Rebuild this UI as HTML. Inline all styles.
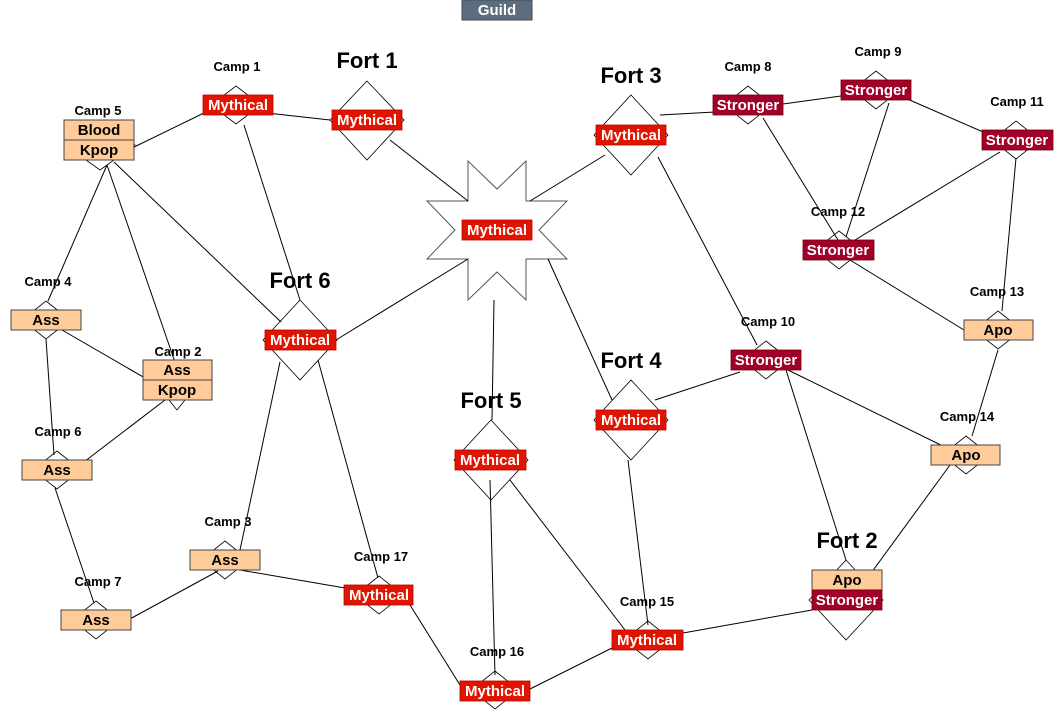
<!DOCTYPE html>
<html><head><meta charset="utf-8"><style>
html,body{margin:0;padding:0;background:#fff;}
svg{display:block;font-family:"Liberation Sans",Arial,sans-serif;}
.cl{font-size:13px;font-weight:bold;fill:#000;text-anchor:middle;}
.fl{font-size:22px;font-weight:bold;fill:#000;text-anchor:middle;}
.wl{font-size:15px;font-weight:bold;fill:#fff;text-anchor:middle;}
.bl{font-size:15px;font-weight:bold;fill:#000;text-anchor:middle;}
.d{fill:#fff;stroke:#000;stroke-width:0.8;}
.r{fill:#e01400;stroke:#b00;stroke-width:0.8;}
.s{fill:#a0002a;stroke:#700;stroke-width:0.8;}
.o{fill:#ffcc99;stroke:#444;stroke-width:1;}
line{stroke:#000;stroke-width:1;}
</style></head><body>
<svg width="1064" height="713" viewBox="0 0 1064 713">
<!-- diamonds -->
<g class="d">
<polygon points="100,120 135,145 100,170 65,145"/>
<polygon points="236,86 261,105 236,124 211,105"/>
<polygon points="367,81 404,120 367,160 330,120"/>
<polygon points="631,95 668,135 631,175 594,135"/>
<polygon points="748,86 772,105 748,124 724,105"/>
<polygon points="876,71 900,90 876,109 852,90"/>
<polygon points="1016,121 1040,140 1016,159 992,140"/>
<polygon points="839,231 863,250 839,269 815,250"/>
<polygon points="998,311 1022,330 998,349 974,330"/>
<polygon points="766,341 790,360 766,379 742,360"/>
<polygon points="631,380 668,420 631,460 594,420"/>
<polygon points="966,436 990,455 966,474 942,455"/>
<polygon points="846,560 883,600 846,640 809,600"/>
<polygon points="648,621 672,640 648,659 624,640"/>
<polygon points="495,671 519,690 495,709 471,690"/>
<polygon points="491,420 528,460 491,500 454,460"/>
<polygon points="379,576 403,595 379,614 355,595"/>
<polygon points="225,541 249,560 225,579 201,560"/>
<polygon points="96,601 120,620 96,639 72,620"/>
<polygon points="57,451 81,470 57,489 33,470"/>
<polygon points="46,301 70,320 46,339 22,320"/>
<polygon points="177,360 201,380 177,410 153,380"/>
<polygon points="300,300 337,340 300,380 263,340"/>
<polygon points="427,201 468,201 468,161 497,189 526,161 526,201 567,201 539,230 567,259 526,259 526,300 497,272 468,300 468,259 427,259 455,230" style="stroke:#555;stroke-width:1"/>
</g>
<!-- edges -->
<g>
<line x1="128" y1="150" x2="206" y2="112"/>
<line x1="258" y1="112" x2="330" y2="120"/>
<line x1="244" y1="125" x2="300" y2="300"/>
<line x1="390" y1="140" x2="468" y2="201"/>
<line x1="530" y1="201" x2="605" y2="155"/>
<line x1="660" y1="115" x2="715" y2="112"/>
<line x1="783" y1="104" x2="841" y2="96"/>
<line x1="905" y1="98" x2="990" y2="135"/>
<line x1="763" y1="118" x2="838" y2="240"/>
<line x1="889" y1="103" x2="846" y2="237"/>
<line x1="1000" y1="152" x2="855" y2="240"/>
<line x1="1016" y1="158" x2="1002" y2="311"/>
<line x1="850" y1="260" x2="964" y2="330"/>
<line x1="658" y1="157" x2="757" y2="345"/>
<line x1="548" y1="259" x2="612" y2="400"/>
<line x1="494" y1="300" x2="492" y2="420"/>
<line x1="468" y1="259" x2="336" y2="340"/>
<line x1="107" y1="165" x2="48" y2="301"/>
<line x1="107" y1="165" x2="177" y2="368"/>
<line x1="114" y1="162" x2="281" y2="322"/>
<line x1="62" y1="330" x2="157" y2="385"/>
<line x1="46" y1="339" x2="54" y2="455"/>
<line x1="165" y1="400" x2="80" y2="465"/>
<line x1="55" y1="488" x2="94" y2="603"/>
<line x1="280" y1="362" x2="240" y2="550"/>
<line x1="318" y1="360" x2="378" y2="578"/>
<line x1="128" y1="620" x2="218" y2="571"/>
<line x1="240" y1="570" x2="345" y2="588"/>
<line x1="410" y1="605" x2="460" y2="685"/>
<line x1="528" y1="690" x2="612" y2="648"/>
<line x1="683" y1="633" x2="812" y2="610"/>
<line x1="490" y1="480" x2="495" y2="675"/>
<line x1="510" y1="480" x2="625" y2="630"/>
<line x1="628" y1="460" x2="648" y2="625"/>
<line x1="655" y1="400" x2="740" y2="372"/>
<line x1="788" y1="370" x2="955" y2="452"/>
<line x1="786" y1="370" x2="846" y2="560"/>
<line x1="998" y1="350" x2="972" y2="436"/>
<line x1="950" y1="465" x2="866" y2="580"/>
</g>
<!-- Guild -->
<rect x="462" y="0" width="70" height="20" fill="#5d6d7e" stroke="#3f4c5a"/>
<text x="497" y="15" class="wl">Guild</text>
<!-- labels -->
<g>
<text x="98" y="115" class="cl">Camp 5</text>
<rect x="64" y="120" width="70" height="20" class="o"/><text x="99" y="135" class="bl">Blood</text>
<rect x="64" y="140" width="70" height="20" class="o"/><text x="99" y="155" class="bl">Kpop</text>

<text x="237" y="71" class="cl">Camp 1</text>
<rect x="203" y="95" width="70" height="20" class="r"/><text x="238" y="110" class="wl">Mythical</text>

<text x="367" y="68" class="fl">Fort 1</text>
<rect x="332" y="110" width="70" height="20" class="r"/><text x="367" y="125" class="wl">Mythical</text>

<rect x="462" y="220" width="70" height="20" class="r"/><text x="497" y="235" class="wl">Mythical</text>

<text x="631" y="83" class="fl">Fort 3</text>
<rect x="596" y="125" width="70" height="20" class="r"/><text x="631" y="140" class="wl">Mythical</text>

<text x="748" y="71" class="cl">Camp 8</text>
<rect x="713" y="95" width="70" height="20" class="s"/><text x="748" y="110" class="wl">Stronger</text>

<text x="878" y="56" class="cl">Camp 9</text>
<rect x="841" y="80" width="70" height="20" class="s"/><text x="876" y="95" class="wl">Stronger</text>

<text x="1017" y="106" class="cl">Camp 11</text>
<rect x="982" y="130" width="71" height="20" class="s"/><text x="1017" y="145" class="wl">Stronger</text>

<text x="838" y="216" class="cl">Camp 12</text>
<rect x="803" y="240" width="71" height="20" class="s"/><text x="838" y="255" class="wl">Stronger</text>

<text x="997" y="296" class="cl">Camp 13</text>
<rect x="964" y="320" width="69" height="20" class="o"/><text x="998" y="335" class="bl">Apo</text>

<text x="768" y="326" class="cl">Camp 10</text>
<rect x="731" y="350" width="70" height="20" class="s"/><text x="766" y="365" class="wl">Stronger</text>

<text x="631" y="368" class="fl">Fort 4</text>
<rect x="596" y="410" width="70" height="20" class="r"/><text x="631" y="425" class="wl">Mythical</text>

<text x="967" y="421" class="cl">Camp 14</text>
<rect x="931" y="445" width="69" height="20" class="o"/><text x="966" y="460" class="bl">Apo</text>

<text x="847" y="548" class="fl">Fort 2</text>
<rect x="812" y="570" width="70" height="20" class="o"/><text x="847" y="585" class="bl">Apo</text>
<rect x="812" y="590" width="70" height="20" class="s"/><text x="847" y="605" class="wl">Stronger</text>

<text x="647" y="606" class="cl">Camp 15</text>
<rect x="612" y="630" width="71" height="20" class="r"/><text x="647" y="645" class="wl">Mythical</text>

<text x="497" y="656" class="cl">Camp 16</text>
<rect x="460" y="681" width="70" height="20" class="r"/><text x="495" y="696" class="wl">Mythical</text>

<text x="491" y="408" class="fl">Fort 5</text>
<rect x="455" y="450" width="71" height="20" class="r"/><text x="490" y="465" class="wl">Mythical</text>

<text x="381" y="561" class="cl">Camp 17</text>
<rect x="344" y="585" width="69" height="20" class="r"/><text x="379" y="600" class="wl">Mythical</text>

<text x="228" y="526" class="cl">Camp 3</text>
<rect x="190" y="550" width="70" height="20" class="o"/><text x="225" y="565" class="bl">Ass</text>

<text x="98" y="586" class="cl">Camp 7</text>
<rect x="61" y="610" width="70" height="20" class="o"/><text x="96" y="625" class="bl">Ass</text>

<text x="58" y="436" class="cl">Camp 6</text>
<rect x="22" y="460" width="70" height="20" class="o"/><text x="57" y="475" class="bl">Ass</text>

<text x="48" y="286" class="cl">Camp 4</text>
<rect x="11" y="310" width="70" height="20" class="o"/><text x="46" y="325" class="bl">Ass</text>

<text x="178" y="356" class="cl">Camp 2</text>
<rect x="143" y="360" width="69" height="20" class="o"/><text x="177" y="375" class="bl">Ass</text>
<rect x="143" y="380" width="69" height="20" class="o"/><text x="177" y="395" class="bl">Kpop</text>

<text x="300" y="288" class="fl">Fort 6</text>
<rect x="265" y="330" width="71" height="20" class="r"/><text x="300" y="345" class="wl">Mythical</text>
</g>
</svg>
</body></html>
